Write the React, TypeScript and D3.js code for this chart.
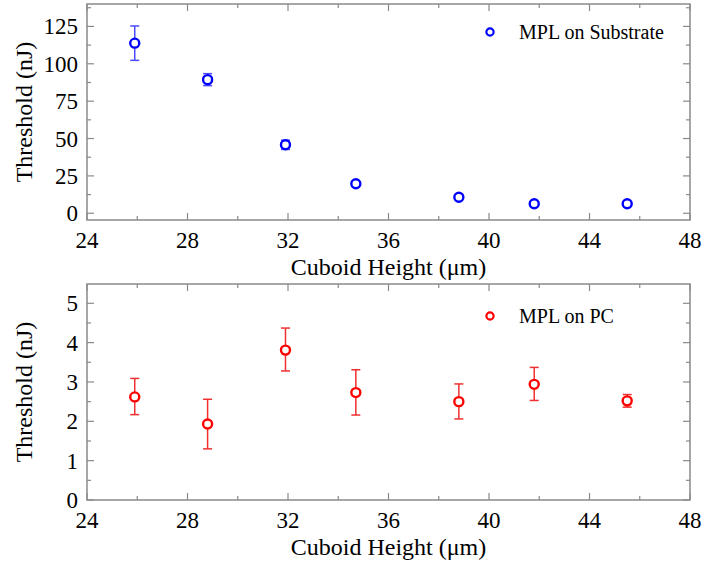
import React from "react";
import * as d3 from "d3";

const heights = [25.9, 28.8, 31.9, 34.7, 38.8, 41.8, 45.5];
const substrateVals = [113.8, 89.4, 45.8, 19.8, 10.7, 6.4, 6.4];
const substrateErr = [11.5, 4.0, 3.1, 1.2, 1.5, 1.0, 1.2];
const pcVals = [2.62, 1.93, 3.81, 2.73, 2.5, 2.94, 2.52];
const pcErrLow = [0.45, 0.63, 0.53, 0.57, 0.44, 0.41, 0.16];
const pcErrHigh = [0.47, 0.63, 0.56, 0.58, 0.45, 0.43, 0.16];

const xTicks = [24, 28, 32, 36, 40, 44, 48];
const topYTicks = [0, 25, 50, 75, 100, 125];
const botYTicks = [0, 1, 2, 3, 4, 5];

const W = 703;
const H = 563;
const L = 87;
const R = 690;
const AXIS = "#8a8a8a";
const FONT = "Liberation Serif";

interface PanelProps {
  top: number;
  bottom: number;
  domain: [number, number];
  yTicks: number[];
  minorStep: number;
  vals: number[];
  lo: number[];
  hi: number[];
  color: string;
  errColor: string;
  legend: string;
  legendY: number;
}

function Panel(p: PanelProps) {
  const x = d3.scaleLinear().domain([24, 48]).range([L, R]);
  const y = d3.scaleLinear().domain(p.domain).range([p.bottom, p.top]);
  const xMinor = d3.range(24, 48.001, 2);
  const yMinor = d3.range(0, p.domain[1], p.minorStep);
  const majT = 7;
  const minT = 4;
  const ts = { fontFamily: FONT };
  return (
    <g>
      <rect x={L} y={p.top} width={R - L} height={p.bottom - p.top} fill="none" stroke={AXIS} strokeWidth={1.5} />
      {xMinor.map((v) => {
        const isMaj = v % 4 === 0;
        const len = isMaj ? majT : minT;
        return (
          <g key={"xt" + v}>
            <line x1={x(v)} x2={x(v)} y1={p.bottom} y2={p.bottom - len} stroke={AXIS} strokeWidth={1.2} />
            <line x1={x(v)} x2={x(v)} y1={p.top} y2={p.top + len} stroke={AXIS} strokeWidth={1.2} />
          </g>
        );
      })}
      {yMinor.map((v, i) => {
        const isMaj = i % 2 === 0;
        const len = isMaj ? majT : minT;
        return (
          <g key={"yt" + i}>
            <line x1={L} x2={L + len} y1={y(v)} y2={y(v)} stroke={AXIS} strokeWidth={1.2} />
            <line x1={R} x2={R - len} y1={y(v)} y2={y(v)} stroke={AXIS} strokeWidth={1.2} />
          </g>
        );
      })}
      {xTicks.map((v) => (
        <text key={"xl" + v} x={x(v)} y={p.bottom + 28} textAnchor="middle" fontSize={23} style={ts} fill="#000">
          {v}
        </text>
      ))}
      {p.yTicks.map((v) => (
        <text key={"yl" + v} x={L - 9} y={y(v) + 8} textAnchor="end" fontSize={23} style={ts} fill="#000">
          {v}
        </text>
      ))}
      <text x={(L + R) / 2} y={p.bottom + 55} textAnchor="middle" fontSize={24} style={ts} fill="#000">
        Cuboid Height (μm)
      </text>
      <text
        transform={`translate(${32},${(p.top + p.bottom) / 2}) rotate(-90)`}
        textAnchor="middle"
        fontSize={24}
        style={ts}
        fill="#000"
      >
        Threshold (nJ)
      </text>
      {heights.map((h, i) => {
        const cx = x(h);
        const yHi = y(p.vals[i] + p.hi[i]);
        const yLo = y(p.vals[i] - p.lo[i]);
        return (
          <g key={"pt" + i}>
            <line x1={cx} x2={cx} y1={yHi} y2={yLo} stroke={p.errColor} strokeWidth={1.5} />
            <line x1={cx - 4.5} x2={cx + 4.5} y1={yHi} y2={yHi} stroke={p.errColor} strokeWidth={1.5} />
            <line x1={cx - 4.5} x2={cx + 4.5} y1={yLo} y2={yLo} stroke={p.errColor} strokeWidth={1.5} />
            <circle cx={cx} cy={y(p.vals[i])} r={4.5} fill="#fff" stroke={p.color} strokeWidth={2.4} />
          </g>
        );
      })}
      <circle cx={490} cy={p.legendY} r={3.6} fill="#fff" stroke={p.color} strokeWidth={2.2} />
      <text x={519} y={p.legendY + 7} fontSize={20} style={ts} fill="#000">
        {p.legend}
      </text>
    </g>
  );
}

export default function App() {
  return (
    <svg width={W} height={H} style={{ position: "absolute", left: 0, top: 0, background: "#fff" }}>
      <Panel
        top={4}
        bottom={220}
        domain={[-4.5, 140]}
        yTicks={topYTicks}
        minorStep={12.5}
        vals={substrateVals}
        lo={substrateErr}
        hi={substrateErr}
        color="#0000ff"
        errColor="#4a4aff"
        legend="MPL on Substrate"
        legendY={32}
      />
      <Panel
        top={284}
        bottom={500}
        domain={[0, 5.49]}
        yTicks={botYTicks}
        minorStep={0.5}
        vals={pcVals}
        lo={pcErrLow}
        hi={pcErrHigh}
        color="#ff0000"
        errColor="#f03030"
        legend="MPL on PC"
        legendY={316}
      />
    </svg>
  );
}
